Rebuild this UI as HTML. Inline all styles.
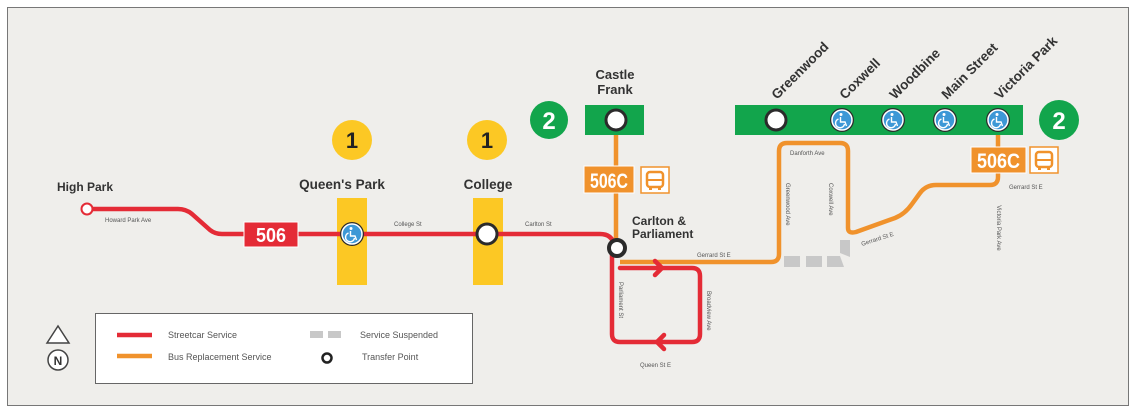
<!DOCTYPE html>
<html><head><meta charset="utf-8"><style>
html,body{margin:0;padding:0;background:#fff;}
svg{display:block;font-family:"Liberation Sans",Arial,sans-serif;}
.b{font-weight:bold;fill:#333;}
.s{font-size:6px;fill:#555;}
</style></head><body>
<svg width="1136" height="414" viewBox="0 0 1136 414" xmlns="http://www.w3.org/2000/svg">
<rect x="7.5" y="7.5" width="1121" height="398" fill="#efeeeb" stroke="#777" stroke-width="1"/>
<defs>
<g id="wc"><circle r="12" fill="#2b2b2b"/><circle r="10" fill="#3d98d6" stroke="#fff" stroke-width="1.5"/>
<circle cx="-1" cy="-5.5" r="1.5" fill="#fff"/><path d="M-1.5,-3 L-1.5,2 L3,2 L4.5,6 M-3.5,-1 A4.5,4.5 0 1 0 2.5,4" fill="none" stroke="#fff" stroke-width="1.4"/></g>
<g id="bus"><rect x="-14" y="-13" width="28" height="26" fill="#fff" stroke="#f0922c" stroke-width="1.5"/>
<rect x="-8" y="-8" width="16" height="15" rx="3" fill="none" stroke="#f0922c" stroke-width="2.5"/><line x1="-8" y1="0" x2="8" y2="0" stroke="#f0922c" stroke-width="2"/><rect x="-6" y="7" width="3" height="3" fill="#f0922c"/><rect x="3" y="7" width="3" height="3" fill="#f0922c"/></g>
</defs>
<rect x="337" y="198" width="30" height="87" fill="#fcc824"/>
<rect x="473" y="198" width="30" height="87" fill="#fcc824"/>
<circle cx="352" cy="140" r="20" fill="#fcc824"/><text x="352" y="148" text-anchor="middle" font-size="22" font-weight="bold" fill="#222">1</text>
<circle cx="487" cy="140" r="20" fill="#fcc824"/><text x="487" y="148" text-anchor="middle" font-size="22" font-weight="bold" fill="#222">1</text>
<rect x="585" y="105" width="59" height="30" fill="#12a54c"/>
<rect x="735" y="105" width="288" height="30" fill="#12a54c"/>
<circle cx="549" cy="120" r="19" fill="#12a54c"/><text x="549" y="129" text-anchor="middle" font-size="24" font-weight="bold" fill="#fff">2</text>
<circle cx="1059" cy="120" r="20" fill="#12a54c"/><text x="1059" y="129" text-anchor="middle" font-size="24" font-weight="bold" fill="#fff">2</text>
<g fill="#c8c8c8"><rect x="784" y="256" width="16" height="11"/><rect x="806" y="256" width="16" height="11"/><path d="M827,256 H840 L844,267 H827Z"/><path d="M840,240 H850 V257 L840,253Z"/></g>
<g fill="none" stroke="#f0922c" stroke-width="4.5" stroke-linejoin="round">
<path d="M616,135 V250"/>
<path d="M620,262 H771 Q779,262 779,254 V151 Q779,143 787,143 H840 Q848,143 848,151 V228 Q848,234 856,232 L895,218 Q905,214 912,204 L920,193 Q926,185 936,185 H990 Q998,185 998,177 V135"/>
</g>
<g fill="none" stroke="#e42b36" stroke-width="4.5" stroke-linejoin="round" stroke-linecap="round">
<path d="M91,209 H178 Q186,209 192,214 L210,230 Q215,234 222,234 H600 Q612,234 614,245"/>
<path d="M612,252 V334 Q612,342 620,342 H692 Q700,342 700,334 V276 Q700,268 692,268 H620"/>
<path d="M655,261 L662,268 L655,275"/>
<path d="M664,335 L657,342 L664,349"/>
</g>
<circle cx="87" cy="209" r="5.5" fill="#fff" stroke="#e42b36" stroke-width="2"/>
<rect x="244" y="222" width="54" height="25" fill="#e42b36" stroke="#fff" stroke-width="1"/>
<text x="256" y="242" font-size="20" font-weight="bold" fill="#fff" textLength="30" lengthAdjust="spacingAndGlyphs">506</text>
<use href="#wc" x="352" y="234"/>
<circle cx="487" cy="234" r="10" fill="#fff" stroke="#2b2b2b" stroke-width="3"/>
<circle cx="617" cy="248" r="8" fill="#fff" stroke="#2b2b2b" stroke-width="4"/>
<circle cx="616" cy="120" r="10" fill="#fff" stroke="#2b2b2b" stroke-width="3"/>
<circle cx="776" cy="120" r="10" fill="#fff" stroke="#2b2b2b" stroke-width="3"/>
<use href="#wc" x="842" y="120"/><use href="#wc" x="893" y="120"/><use href="#wc" x="945" y="120"/><use href="#wc" x="998" y="120"/>
<rect x="584" y="166" width="50" height="27" fill="#f0922c" stroke="#fff" stroke-width="1"/>
<text x="590" y="188" font-size="21" font-weight="bold" fill="#fff" textLength="38" lengthAdjust="spacingAndGlyphs">506C</text>
<use href="#bus" x="655" y="180"/>
<rect x="971" y="147" width="55" height="26" fill="#f0922c" stroke="#fff" stroke-width="1"/>
<text x="977" y="168" font-size="21" font-weight="bold" fill="#fff" textLength="43" lengthAdjust="spacingAndGlyphs">506C</text>
<use href="#bus" x="1044" y="160"/>
<text x="57" y="191" class="b" font-size="12">High Park</text>
<text x="342" y="189" class="b" font-size="13.5" text-anchor="middle">Queen's Park</text>
<text x="488" y="189" class="b" font-size="13.5" text-anchor="middle">College</text>
<text x="615" y="79" class="b" font-size="13" text-anchor="middle">Castle</text>
<text x="615" y="94" class="b" font-size="13" text-anchor="middle">Frank</text>
<text x="632" y="225" class="b" font-size="12">Carlton &amp;</text>
<text x="632" y="238" class="b" font-size="12">Parliament</text>
<g class="b" font-size="13.5">
<text transform="translate(777,100) rotate(-45)">Greenwood</text>
<text transform="translate(845,100) rotate(-45)">Coxwell</text>
<text transform="translate(895,100) rotate(-45)">Woodbine</text>
<text transform="translate(947,100) rotate(-45)">Main Street</text>
<text transform="translate(1000,100) rotate(-45)">Victoria Park</text>
</g>
<g class="s">
<text x="105" y="222">Howard Park Ave</text>
<text x="394" y="226">College St</text>
<text x="525" y="226">Carlton St</text>
<text x="697" y="257">Gerrard St E</text>
<text x="790" y="155">Danforth Ave</text>
<text x="1009" y="189">Gerrard St E</text>
<text x="640" y="367">Queen St E</text>
<text transform="translate(862,246) rotate(-18)">Gerrard St E</text>
<text transform="translate(786,183) rotate(90)">Greenwood Ave</text>
<text transform="translate(829,183) rotate(90)">Coxwell Ave</text>
<text transform="translate(619,282) rotate(90)">Parliament St</text>
<text transform="translate(707,291) rotate(90)">Broadview Ave</text>
<text transform="translate(997,228) rotate(90)" text-anchor="middle">Victoria Park Ave</text>
</g>
<rect x="95.5" y="313.5" width="377" height="70" fill="#fff" stroke="#666" stroke-width="1"/>
<line x1="117" y1="335" x2="152" y2="335" stroke="#e42b36" stroke-width="4.5"/>
<line x1="117" y1="356" x2="152" y2="356" stroke="#f0922c" stroke-width="4.5"/>
<g font-size="9" fill="#555"><text x="168" y="338">Streetcar Service</text><text x="168" y="360">Bus Replacement Service</text>
<text x="360" y="338">Service Suspended</text><text x="362" y="360">Transfer Point</text></g>
<rect x="310" y="331" width="13" height="7" fill="#c8c8c8"/><rect x="328" y="331" width="13" height="7" fill="#c8c8c8"/>
<circle cx="327" cy="358" r="4.5" fill="#fff" stroke="#222" stroke-width="2.5"/>
<path d="M47,343 L58,326 L69,343Z" fill="#fff" stroke="#444" stroke-width="1.5"/>
<circle cx="58" cy="360" r="10" fill="#fff" stroke="#444" stroke-width="1.5"/>
<text x="58" y="365" text-anchor="middle" font-size="12" font-weight="bold" fill="#333">N</text>
</svg>
</body></html>
